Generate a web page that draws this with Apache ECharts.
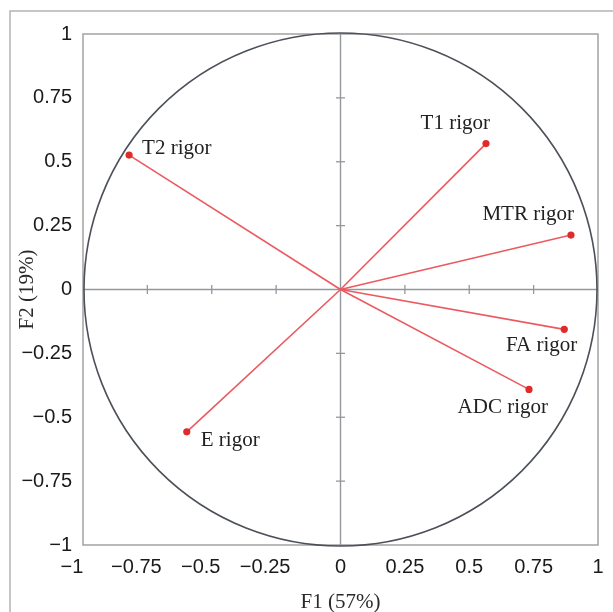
<!DOCTYPE html>
<html><head><meta charset="utf-8">
<script src="https://cdn.jsdelivr.net/npm/echarts@6/dist/echarts.min.js"></script>
<style>html,body{margin:0;padding:0;background:#fff}#c{width:613px;height:612px}</style>
</head><body><div id="c"></div>
<script>
// ---- data ----
const variables = ['T2 rigor', 'T1 rigor', 'MTR rigor', 'FA rigor', 'ADC rigor', 'E rigor'];
const f1Loadings = [-0.821, 0.565, 0.895, 0.869, 0.732, -0.597];
const f2Loadings = [0.526, 0.571, 0.213, -0.156, -0.391, -0.557];
const tickValues = [-1, -0.75, -0.5, -0.25, 0, 0.25, 0.5, 0.75, 1];
const xAxisTitle = 'F1 (57%)';
const yAxisTitle = 'F2 (19%)';

// ---- label placement (style) ----
const labelPlacement = {
  'T2 rigor': {align: 'left', dx: 13, dy: -7},
  'T1 rigor': {align: 'right', dx: 4, dy: -20},
  'MTR rigor': {align: 'right', dx: 3, dy: -21},
  'FA rigor': {align: 'right', dx: 13, dy: 16},
  'ADC rigor': {align: 'right', dx: 19, dy: 18},
  'E rigor': {align: 'left', dx: 14, dy: 9}
};

const SANS = '"Liberation Sans", Arial, sans-serif';
const SERIF = '"Liberation Serif", "Times New Roman", serif';
const RED_LINE = '#ea5a60';
const RED_DOT = '#e02b2b';
const AXIS_GRAY = '#94979b';

const vectorData = variables.map((n, i) => [f1Loadings[i], f2Loadings[i], n]);
const innerTicks = tickValues.filter(v => v !== 0 && Math.abs(v) !== 1);

const chart = echarts.init(document.getElementById('c'), null, {renderer: 'canvas'});

function fmtX(v) {
  if (v < 0) return '{n|\u2212' + String(Math.abs(v)) + '}';
  return String(v);
}
function fmtY(v) {
  if (v < 0) return '\u2212' + String(Math.abs(v));
  return String(v);
}

const option = {
  animation: false,
  backgroundColor: '#fff',
  graphic: [{
    type: 'rect',
    shape: {x: 10, y: 11, width: 700, height: 700},
    style: {fill: 'none', stroke: '#b4b4b4', lineWidth: 1.5},
    silent: true,
    z: -10
  }],
  grid: {
    left: 83, top: 34, right: 15, bottom: 67,
    containLabel: false, outerBoundsMode: 'none',
    show: true, borderColor: '#a3a3a3', borderWidth: 1.5, backgroundColor: '#fff'
  },
  xAxis: {
    type: 'value', min: -1, max: 1, interval: 0.25,
    axisLine: {show: false}, axisTick: {show: false}, splitLine: {show: false},
    axisLabel: {
      fontFamily: SANS, fontSize: 20, color: '#1a1a1a', margin: 12,
      formatter: fmtX,
      rich: {n: {fontFamily: SANS, fontSize: 20, color: '#1a1a1a', padding: [0, 22, 0, 0]}}
    },
    name: xAxisTitle, nameLocation: 'middle', nameGap: 47, nameMoveOverlap: false,
    nameTextStyle: {fontFamily: SERIF, fontSize: 21, color: '#2a2a2a'}
  },
  yAxis: {
    type: 'value', min: -1, max: 1, interval: 0.25,
    axisLine: {show: false}, axisTick: {show: false}, splitLine: {show: false},
    axisLabel: {fontFamily: SANS, fontSize: 20, color: '#1a1a1a', margin: 11, formatter: fmtY},
    name: yAxisTitle, nameLocation: 'middle', nameGap: 45, nameRotate: 90, nameMoveOverlap: false,
    nameTextStyle: {fontFamily: SERIF, fontSize: 21, color: '#2a2a2a'}
  },
  series: [
    {
      // correlation circle and central axes with ticks
      type: 'custom',
      silent: true,
      clip: false,
      z: 1,
      data: [[0, 0]],
      renderItem: function (params, api) {
        const c = api.coord([0, 0]);
        const sz = api.size([1, 1]);
        const r = (sz[0] + sz[1]) / 2;
        const left = api.coord([-1, 0]), right = api.coord([1, 0]);
        const top = api.coord([0, 1]), bottom = api.coord([0, -1]);
        const children = [
          {type: 'line', shape: {x1: left[0], y1: c[1], x2: right[0], y2: c[1]},
           style: {stroke: AXIS_GRAY, lineWidth: 1.4}},
          {type: 'line', shape: {x1: c[0], y1: top[1], x2: c[0], y2: bottom[1]},
           style: {stroke: AXIS_GRAY, lineWidth: 1.4}}
        ];
        innerTicks.forEach(function (t) {
          const px = api.coord([t, 0]);
          const py = api.coord([0, t]);
          children.push({type: 'line', shape: {x1: px[0], y1: c[1] - 4.5, x2: px[0], y2: c[1] + 4.5},
            style: {stroke: AXIS_GRAY, lineWidth: 1.3}});
          children.push({type: 'line', shape: {x1: c[0] - 4.5, y1: py[1], x2: c[0] + 4.5, y2: py[1]},
            style: {stroke: AXIS_GRAY, lineWidth: 1.3}});
        });
        children.push({type: 'circle', shape: {cx: c[0], cy: c[1], r: r},
          style: {fill: 'none', stroke: '#4c5159', lineWidth: 1.6}});
        return {type: 'group', children: children};
      }
    },
    {
      // loading vectors
      type: 'custom',
      silent: true,
      clip: false,
      z: 5,
      data: vectorData,
      renderItem: function (params, api) {
        const o = api.coord([0, 0]);
        const p = api.coord([api.value(0), api.value(1)]);
        const name = variables[params.dataIndex];
        const lp = labelPlacement[name];
        return {
          type: 'group',
          children: [
            {type: 'line', shape: {x1: o[0], y1: o[1], x2: p[0], y2: p[1]},
             style: {stroke: RED_LINE, lineWidth: 1.6}},
            {type: 'circle', shape: {cx: p[0], cy: p[1], r: 3.6},
             style: {fill: RED_DOT}},
            {type: 'text', x: p[0] + lp.dx, y: p[1] + lp.dy,
             style: {text: name, fontFamily: SERIF, fontSize: 21, fill: '#222',
                     align: lp.align, verticalAlign: 'middle'}}
          ]
        };
      }
    }
  ]
};
chart.setOption(option);
</script>
</body></html>
